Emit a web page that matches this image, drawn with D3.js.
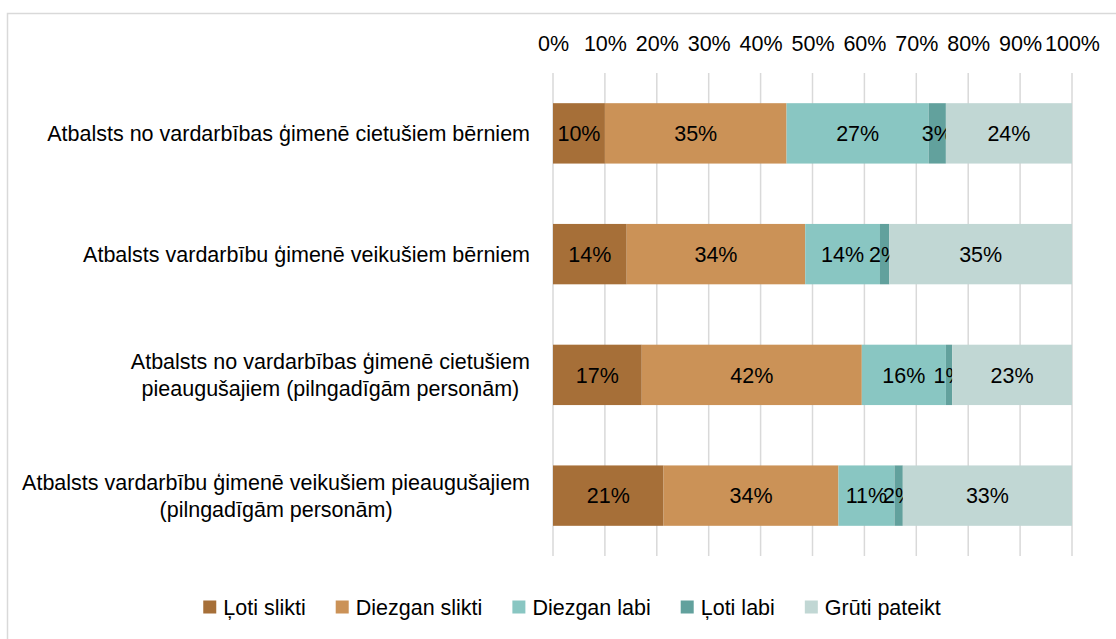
<!DOCTYPE html>
<html>
<head>
<meta charset="utf-8">
<script src="https://cdn.jsdelivr.net/npm/d3@7"></script>
<style>
  body { margin: 0; background: #fff; }
  text { font-family: "Liberation Sans", Arial, sans-serif; fill: #000; }
</style>
</head>
<body>
<script>
// Chart size
var w = 1116;
var h = 639;

// Categories (line breaks as in the original chart)
var categories = [
  "Atbalsts no vardarbības ģimenē cietušiem bērniem",
  "Atbalsts vardarbību ģimenē veikušiem bērniem",
  "Atbalsts no vardarbības ģimenē cietušiem\npieaugušajiem (pilngadīgām personām)",
  "Atbalsts vardarbību ģimenē veikušiem pieaugušajiem\n(pilngadīgām personām)"
];

// Series names
var seriesNames = ["Ļoti slikti", "Diezgan slikti", "Diezgan labi", "Ļoti labi", "Grūti pateikt"];

// Series values (%), one per category
var lotiSlikti = [10.0, 14.2, 17.1, 21.3];
var diezganSlikti = [35.0, 34.4, 42.4, 33.7];
var diezganLabi = [27.4, 14.4, 16.2, 10.8];
var lotiLabi = [3.3, 1.8, 1.2, 1.6];
var grutiPateikt = [24.3, 35.2, 23.1, 32.6];

// Axis ticks
var tickValues = [0, 10, 20, 30, 40, 50, 60, 70, 80, 90, 100];

var colors = ["#A66F38", "#CB9257", "#89C6C2", "#62A19D", "#C1D7D4"];

// build rows for d3.stack
var seriesValues = [lotiSlikti, diezganSlikti, diezganLabi, lotiLabi, grutiPateikt];
var rows = categories.map(function (c, i) {
  var row = { cat: c };
  seriesNames.forEach(function (s, j) {
    row[s] = seriesValues[j][i];
  });
  return row;
});

var stacked = d3.stack().keys(seriesNames)(rows);

var svg = d3.select("body").append("svg").attr("width", w).attr("height", h);

//Border
svg
  .append("rect")
  .attr("x", 7.5)
  .attr("y", 13.5)
  .attr("width", 1130)
  .attr("height", 650)
  .attr("fill", "#fff")
  .attr("stroke", "#d9d9d9")
  .attr("stroke-width", 1.5);

var x = d3.scaleLinear().domain([0, 100]).range([553, 1072]);
var y = d3
  .scaleBand()
  .domain(categories)
  .range([73, 556])
  .paddingInner(0.5)
  .paddingOuter(0.25);

//Gridlines
svg
  .append("g")
  .selectAll("line")
  .data(tickValues)
  .enter()
  .append("line")
  .attr("x1", function (d) { return x(d); })
  .attr("x2", function (d) { return x(d); })
  .attr("y1", 73)
  .attr("y2", 556)
  .style("stroke", "#d9d9d9")
  .style("stroke-width", 1.5);

//Top axis
var axis = svg
  .append("g")
  .attr("transform", "translate(0,51)")
  .call(
    d3.axisTop(x)
      .tickValues(tickValues)
      .tickSize(0)
      .tickPadding(0)
      .tickFormat(function (d) { return d + "%"; })
  );
axis.select(".domain").remove();
axis
  .selectAll("text")
  .attr("y", 0)
  .attr("dy", 0)
  .style("font-family", '"Liberation Sans", Arial, sans-serif')
  .style("font-size", "21.5px")
  .style("fill", "#000");

//Bars
var layer = svg
  .append("g")
  .selectAll("g")
  .data(stacked)
  .enter()
  .append("g")
  .attr("fill", function (d, i) { return colors[i]; });

layer
  .selectAll("rect")
  .data(function (d) { return d; })
  .enter()
  .append("rect")
  .attr("x", function (d) { return x(d[0]); })
  .attr("width", function (d) { return x(d[1]) - x(d[0]); })
  .attr("y", function (d) { return y(d.data.cat); })
  .attr("height", y.bandwidth());

//Data labels
layer
  .selectAll("text")
  .data(function (d) { return d; })
  .enter()
  .append("text")
  .attr("x", function (d) { return (x(d[0]) + x(d[1])) / 2; })
  .attr("y", function (d) { return y(d.data.cat) + y.bandwidth() / 2; })
  .attr("dy", "0.36em")
  .attr("text-anchor", "middle")
  .style("font-size", "21.5px")
  .text(function (d) { return Math.round(d[1] - d[0]) + "%"; });

//Category labels
var labelRight = 530;
var lineH = 27;
categories.forEach(function (c) {
  var lines = c.split("\n");
  var cy = y(c) + y.bandwidth() / 2;
  var g = svg.append("g");
  var texts = lines.map(function (l, i) {
    return g
      .append("text")
      .attr("y", cy + (i - (lines.length - 1) / 2) * lineH)
      .attr("dy", "0.36em")
      .attr("text-anchor", "middle")
      .style("font-size", "21.5px")
      .text(l);
  });
  var maxW = d3.max(texts, function (t) { return t.node().getComputedTextLength(); });
  texts.forEach(function (t) { t.attr("x", labelRight - maxW / 2); });
});

//Legend
var legend = svg.append("g");
var lx = 0;
seriesNames.forEach(function (s, i) {
  var item = legend.append("g").attr("transform", "translate(" + lx + ",0)");
  item
    .append("rect")
    .attr("x", 0)
    .attr("y", -6.5)
    .attr("width", 13)
    .attr("height", 13)
    .attr("fill", colors[i]);
  var t = item
    .append("text")
    .attr("x", 20)
    .attr("dy", "0.36em")
    .style("font-size", "21.5px")
    .text(s);
  lx += 20 + t.node().getComputedTextLength() + 30;
});
var legendW = lx - 30;
legend.attr("transform", "translate(" + (572 - legendW / 2) + ",607)");
</script>
</body>
</html>
